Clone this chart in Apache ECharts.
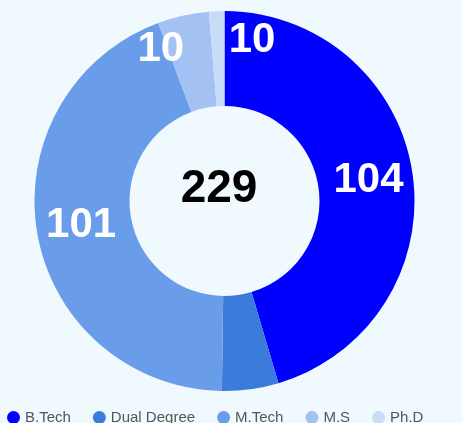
<!DOCTYPE html>
<html>
<head>
<meta charset="utf-8">
<style>
  html, body { margin: 0; padding: 0; background: #f0f9fd; }
  #chart { width: 462px; height: 423px; }
</style>
<script src="https://cdn.jsdelivr.net/npm/echarts@6/dist/echarts.min.js"></script>
</head>
<body>
<div id="chart"></div>
<script>
  // degree-wise counts
  var categories = ['B.Tech', 'Dual Degree', 'M.Tech', 'M.S', 'Ph.D']
  var counts = [104, 11, 101, 10, 3]
  var colors = ['#0000ff', '#3b7bdb', '#6a9de9', '#a3c2f3', '#c8dbf7']
  var showLabel = [true, false, true, true, false]
  // extra value label seen at the top of the ring
  var strayLabels = ['10']

  var total = counts.reduce(function (a, b) { return a + b }, 0)
  var font = "'Liberation Sans', Arial, sans-serif"

  var chart = echarts.init(document.getElementById('chart'))
  chart.setOption({
    backgroundColor: '#f0f9fd',
    animation: false,
    color: colors,
    legend: {
      data: categories,
      left: 2,
      top: 405,
      icon: 'circle',
      itemWidth: 13,
      itemHeight: 13,
      itemGap: 22,
      textStyle: { fontSize: 15, color: '#555', fontFamily: font }
    },
    graphic: [{
      type: 'text',
      z: 100,
      style: {
        x: 219, y: 189,
        text: String(total),
        align: 'center', verticalAlign: 'middle',
        fontSize: 46, fontWeight: 'bold', fontFamily: font, fill: '#000'
      }
    }, {
      type: 'text',
      z: 100,
      style: {
        x: 252, y: 40,
        text: strayLabels[0],
        align: 'center', verticalAlign: 'middle',
        fontSize: 42, fontWeight: 'bold', fontFamily: font, fill: '#fff'
      }
    }],
    series: [{
      type: 'pie',
      center: [224.5, 201],
      radius: [95, 190],
      startAngle: 90,
      avoidLabelOverlap: false,
      label: {
        position: 'inside',
        formatter: '{c}',
        color: '#fff',
        fontSize: 42,
        fontWeight: 'bold',
        fontFamily: font
      },
      labelLine: { show: false },
      emphasis: { disabled: true },
      labelLayout: function (params) {
        if (params.dataIndex === 3) return { dx: -32, dy: -10 }
        return {}
      },
      data: categories.map(function (name, i) {
        return { name: name, value: counts[i], label: { show: showLabel[i] } }
      })
    }]
  })
</script>
</body>
</html>
